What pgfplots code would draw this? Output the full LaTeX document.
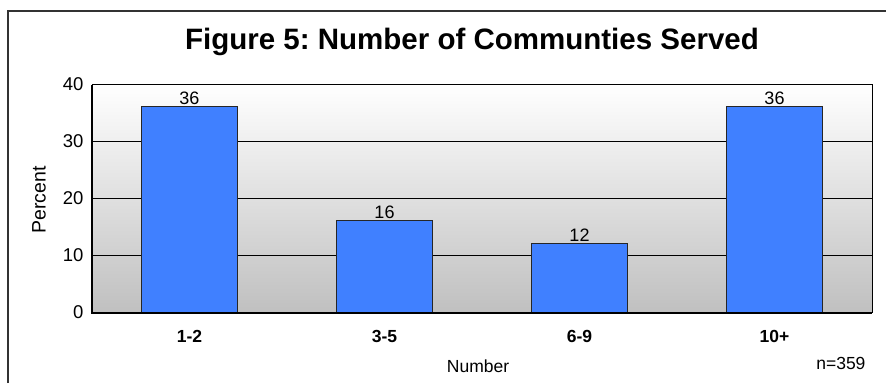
\documentclass[border=0pt]{standalone}
\usepackage{fontspec}
\setmainfont{Liberation Sans}
\usepackage{pgfplots}
\pgfplotsset{compat=1.18}
\frenchspacing

\definecolor{barblue}{HTML}{4080FF}
\definecolor{plotgray}{HTML}{C0C0C0}

\pgfplotstableread{
pos value
0 36
1 16
2 12
3 36
}\communities

\begin{document}
\begin{tikzpicture}
  % page frame
  \path[use as bounding box] (0pt,0pt) rectangle (886pt,383pt);
  \draw[line width=1.2pt, black!80] (8pt,0pt) -- (8pt,372pt) -- (886pt,372pt);

  \begin{axis}[
    at={(92pt,71pt)}, anchor=south west,
    scale only axis, width=780pt, height=228pt,
    xmin=-0.5, xmax=3.5, ymin=0, ymax=40,
    xtick=data, xticklabels={1-2,3-5,6-9,10+},
    ytick={0,10,20,30,40},
    major tick length=0pt,
    ymajorgrids,
    grid style={black, line width=0.8pt},
    axis background/.style={top color=white, bottom color=plotgray},
    axis line style={black, line width=0.8pt},
    /pgf/number format/assume math mode=true,
    ticklabel style={font=\fontsize{18.5}{20}\selectfont},
    xticklabel style={font=\fontsize{17.5}{20}\selectfont\bfseries, yshift=-15pt},
    yticklabel style={xshift=-5pt},
    ybar, bar width=96pt,
    nodes near coords,
    every node near coord/.append style={font=\fontsize{18}{20}\selectfont, yshift=-2pt},
  ]
    \addplot[fill=barblue, draw=black!85, line width=0.8pt] table[x=pos, y=value] {\communities};
  \end{axis}

  % heavier left and bottom edges of the plot area
  \draw[line width=2.6pt, black] (92pt,298pt) -- (92pt,70pt) -- (872pt,70pt);

  % titles and labels
  \node[font=\fontsize{29.5}{32}\selectfont\bfseries] at (472pt,341pt) {Figure 5: Number of Communties Served};
  \node[font=\fontsize{19.5}{22}\selectfont, rotate=90] at (39pt,183pt) {Percent};
  \node[font=\fontsize{17.5}{20}\selectfont] at (478pt,17pt) {Number};
  \node[font=\fontsize{17.5}{20}\selectfont, anchor=east] at (869pt,20pt) {n=359};
\end{tikzpicture}
\end{document}
